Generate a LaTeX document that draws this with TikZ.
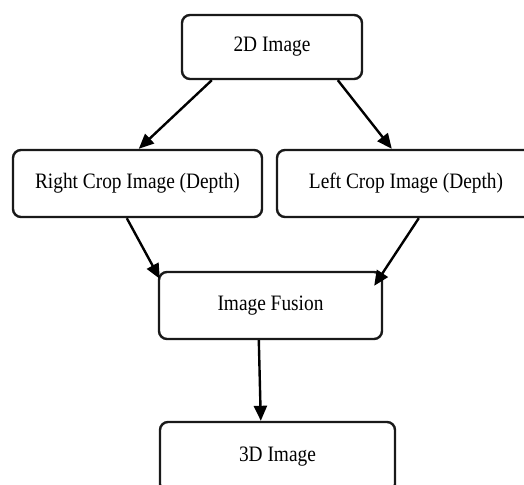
\documentclass[tikz,border=0pt]{standalone}
\usepackage{fontspec}
\setmainfont{Liberation Serif}[FakeStretch=0.88]
\usetikzlibrary{arrows.meta}
\begin{document}
\begin{tikzpicture}[x=1pt,y=-1pt,
  box/.style={draw=black!90, line width=2.4pt, rounded corners=8pt, fill=white,
    inner sep=0pt, font=\fontsize{22}{26}\selectfont, anchor=center},
  conn/.style={draw=black, line width=2.4pt, -{Triangle[length=15pt,width=13pt]}}]
\useasboundingbox (0,0) rectangle (524,484);
\node[box, minimum width=180pt, minimum height=64pt] (n2d) at (272,47) {2D Image};
\node[box, minimum width=249pt, minimum height=67pt] (nr) at (137.5,183.5) {Right Crop Image (Depth)};
\node[box, minimum width=258pt, minimum height=67pt] (nl) at (406,183.5) {Left Crop Image (Depth)};
\node[box, minimum width=223pt, minimum height=67pt] (nf) at (270.5,305.5) {Image Fusion};
\node[box, minimum width=235pt, minimum height=70pt] (n3) at (277.5,457) {3D Image};
\draw[conn] ([xshift=31pt]n2d.south west) -- ([xshift=127pt]nr.north west);
\draw[conn] ([xshift=157pt]n2d.south west) -- ([xshift=116pt]nl.north west);
\draw[conn] ([xshift=115pt]nr.south west) -- ([xshift=2pt,yshift=-8pt]nf.north west);
\draw[conn] ([xshift=143pt]nl.south west) -- ([xshift=-9pt,yshift=-15pt]nf.north east);
\draw[conn] ([xshift=101pt]nf.south west) -- ([xshift=102pt]n3.north west);
\end{tikzpicture}
\end{document}
